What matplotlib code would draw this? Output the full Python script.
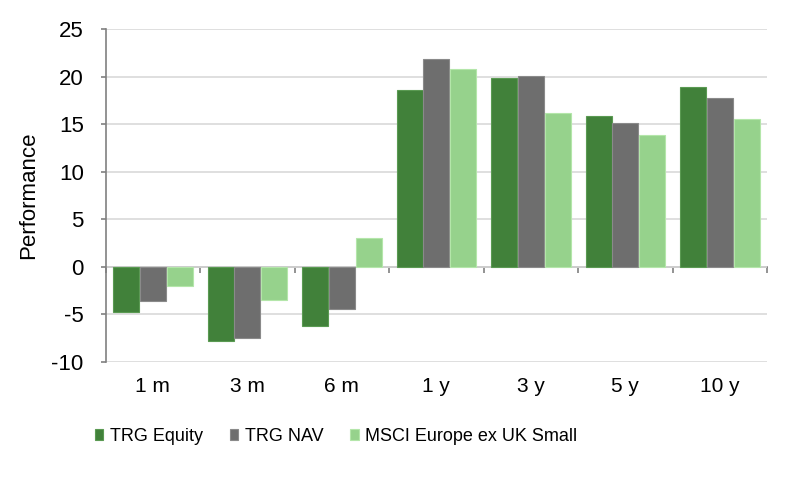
import matplotlib
matplotlib.use("Agg")
import matplotlib.pyplot as plt
import numpy as np

categories = ["1 m", "3 m", "6 m", "1 y", "3 y", "5 y", "10 y"]
trg_equity = [-4.7, -7.8, -6.2, 18.6, 19.8, 15.9, 18.9]
trg_nav = [-3.6, -7.5, -4.4, 21.8, 20.1, 15.1, 17.7]
msci = [-2.0, -3.5, 3.0, 20.8, 16.2, 13.8, 15.5]
series_names = ["TRG Equity", "TRG NAV", "MSCI Europe ex UK Small"]
yticks = [-10, -5, 0, 5, 10, 15, 20, 25]

plt.rcParams['font.family'] = ["Liberation Sans", "DejaVu Sans"]
plt.rcParams['axes.unicode_minus'] = False

fig = plt.figure(figsize=(8, 4.82), dpi=100)
ax = fig.add_axes([0.132, 0.249, 0.827, 0.691])

colors = ["#41813a", "#6e6e6e", "#96d28c"]
edges = ["#5a9a52", "#8a8a8a", "#b4e6aa"]
x = np.arange(len(categories))
w = 0.283
for i, (vals, c, ec, name) in enumerate(zip([trg_equity, trg_nav, msci], colors, edges, series_names)):
    ax.bar(x + (i - 1) * w, vals, width=w * 0.97, color=c, edgecolor=ec, linewidth=0.8, label=name, zorder=3)

ymin, ymax = -10, 25
ax.set_ylim(ymin, ymax)
ax.set_xlim(-0.5, len(categories) - 0.5)
ax.set_yticks(yticks)
ax.yaxis.grid(True, color="#d9d9d9", linewidth=1.2, zorder=0)
ax.set_axisbelow(True)

for s in ["top", "right", "bottom"]:
    ax.spines[s].set_visible(False)
ax.spines["left"].set_color("#808080")
ax.spines["left"].set_linewidth(1.2)
ax.tick_params(axis="y", direction="out", length=3.8, width=1.2, color="#808080",
               labelsize=16, pad=12)

ax.set_xticks(x)
ax.set_xticklabels(categories)
ax.tick_params(axis="x", length=0, labelsize=15, pad=11)

# zero line with boundary ticks
loc = (0 - ymin) / (ymax - ymin)
sec = ax.secondary_xaxis(loc)
sec.set_xticks(np.arange(len(categories) + 1) - 0.5)
sec.set_xticklabels([])
sec.tick_params(axis="x", direction="out", length=4.5, width=1.2, color="#808080")
sec.spines["bottom"].set_color("#808080")
sec.spines["bottom"].set_linewidth(1.2)

ax.set_ylabel("Performance", fontsize=16, labelpad=9)

leg = fig.legend(loc="center", bbox_to_anchor=(0.42, 0.095), ncol=3, frameon=False,
                 fontsize=13, handlelength=0.47, handleheight=0.62, handletextpad=0.35,
                 columnspacing=1.5)

fig.savefig("out.png", dpi=100)
